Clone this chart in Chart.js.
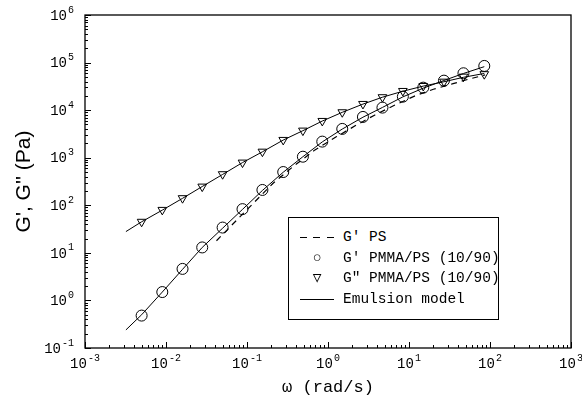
<!DOCTYPE html>
<html>
<head>
<meta charset="utf-8">
<script src="https://cdn.jsdelivr.net/npm/chart.js@4.4.1/dist/chart.umd.min.js"></script>
<style>
  body { margin: 0; background: #fff; }
  #wrap { position: relative; width: 582px; height: 407px; }
  #legend {
    position: absolute; left: 288px; top: 217px; width: 211px; height: 103px;
    border: 1px solid #000; box-sizing: border-box; background: #fff;
    font-family: 'Liberation Mono', monospace; font-size: 14.5px; color: #000;
    padding-top: 9px;
  }
  .row { height: 20.5px; line-height: 20.5px; white-space: nowrap; position: relative; }
  .sym { position: absolute; left: 9px; width: 38px; text-align: center; }
  .txt { position: absolute; left: 54px; }
  .dash { position: absolute; left: 11px; top: 10px; width: 34px; height: 1.3px;
          background: repeating-linear-gradient(90deg, #000 0 7px, transparent 7px 13.5px); }
  .solid { position: absolute; left: 11px; top: 10px; width: 34px; border-top: 1px solid #000; }
</style>
</head>
<body>
<div id="wrap">
  <canvas id="c" width="582" height="407"></canvas>
  <div id="legend">
    <div class="row"><span class="dash"></span><span class="txt">G' PS</span></div>
    <div class="row"><span class="sym">○</span><span class="txt">G' PMMA/PS (10/90)</span></div>
    <div class="row"><span class="sym">▽</span><span class="txt">G" PMMA/PS (10/90)</span></div>
    <div class="row"><span class="solid"></span><span class="txt">Emulsion model</span></div>
  </div>
</div>
<script>
// frequencies (rad/s) of the blend measurements
const omega = [0.005, 0.009, 0.016, 0.028, 0.05, 0.088, 0.155, 0.28, 0.49, 0.85, 1.5, 2.7, 4.7, 8.4, 15, 27, 47, 85];
// G' PMMA/PS (10/90)
const gPrimeBlend = [0.48, 1.5, 4.6, 13, 34, 83, 210, 500, 1050, 2180, 4030, 7200, 11300, 19200, 29700, 41700, 59600, 85000];
// G'' PMMA/PS (10/90)
const gDoubleBlend = [45, 80, 141, 247, 450, 790, 1340, 2365, 3715, 5930, 9030, 13500, 18700, 25300, 32200, 39700, 50600, 57000];

// G' of pure PS (dashed)
const omegaPS = [0.042, 0.12, 0.21, 0.37, 0.69, 1.28, 2.26, 3.8, 6.7, 11.9, 20, 35, 55, 87];
const gPrimePS = [18, 111, 291, 650, 1460, 2780, 4890, 7940, 12800, 20000, 27500, 36000, 45000, 55000];

// emulsion model curves
const omegaModel = [0.0032, 0.005, 0.009, 0.016, 0.028, 0.05, 0.088, 0.155, 0.28, 0.49, 0.85, 1.5, 2.7, 4.7, 8.4, 15, 27, 47, 85];
const gPrimeModel = [0.24, 0.5, 1.5, 4.5, 13, 33, 82, 205, 495, 1050, 2150, 4000, 7100, 11400, 19000, 29000, 42000, 59000, 82000];
const gDoubleModel = [28, 45, 79, 140, 248, 445, 790, 1330, 2350, 3700, 5900, 9000, 13400, 18700, 25000, 32000, 39500, 49000, 59000];

// tick labels are 10^n for these exponents
const xDecades = [-3, -2, -1, 0, 1, 2, 3];
const yDecades = [-1, 0, 1, 2, 3, 4, 5, 6];

const pts = (xs, ys) => xs.map((x, i) => ({ x: x, y: ys[i] }));
const monoFont = "'Liberation Mono', 'Courier New', monospace";

// draws "10" with a raised exponent, anchored at (x, y)
function drawPow(ctx, exp, x, y, align) {
  const base = '10';
  const e = String(exp);
  ctx.font = '14px ' + monoFont;
  const wb = ctx.measureText(base).width;
  ctx.font = '10px ' + monoFont;
  const we = ctx.measureText(e).width;
  const total = wb + 1 + we;
  const left = align === 'center' ? x - total / 2 : x - total;
  ctx.textAlign = 'left';
  ctx.textBaseline = 'middle';
  ctx.font = '14px ' + monoFont;
  ctx.fillText(base, left, y);
  ctx.font = '10px ' + monoFont;
  ctx.fillText(e, left + wb + 1, y - 6);
}

const frameTicks = {
  id: 'frameTicks',
  afterDraw(chart) {
    const { ctx, chartArea: a, scales: { x, y } } = chart;
    ctx.save();
    ctx.strokeStyle = '#000';
    ctx.fillStyle = '#000';
    ctx.lineWidth = 1.3;
    ctx.strokeRect(a.left, a.top, a.right - a.left, a.bottom - a.top);
    ctx.lineWidth = 1;
    ctx.beginPath();
    xDecades.forEach(e => {
      for (let m = 1; m < 10; m++) {
        if (e === 3 && m > 1) break;
        const px = Math.round(x.getPixelForValue(m * Math.pow(10, e))) + 0.5;
        const len = m === 1 ? 6 : 3;
        ctx.moveTo(px, a.bottom);
        ctx.lineTo(px, a.bottom - len);
      }
    });
    yDecades.forEach(e => {
      for (let m = 1; m < 10; m++) {
        if (e === 6 && m > 1) break;
        const py = Math.round(y.getPixelForValue(m * Math.pow(10, e))) + 0.5;
        const len = m === 1 ? 6 : 3;
        ctx.moveTo(a.left, py);
        ctx.lineTo(a.left + len, py);
      }
    });
    ctx.stroke();

    x.ticks.forEach(t => drawPow(ctx, Math.round(Math.log10(t.value)), x.getPixelForValue(t.value), a.bottom + 16, 'center'));
    y.ticks.forEach(t => drawPow(ctx, Math.round(Math.log10(t.value)), a.left - 11, y.getPixelForValue(t.value) + 1, 'right'));
    ctx.restore();
  }
};

new Chart(document.getElementById('c'), {
  type: 'line',
  data: {
    datasets: [
      {
        label: "G' PS",
        data: pts(omegaPS, gPrimePS),
        borderColor: '#000', borderWidth: 1.2, borderDash: [6, 5],
        pointRadius: 0, fill: false
      },
      {
        label: 'Emulsion model',
        data: pts(omegaModel, gPrimeModel),
        borderColor: '#000', borderWidth: 1, pointRadius: 0, fill: false
      },
      {
        label: 'Emulsion model',
        data: pts(omegaModel, gDoubleModel),
        borderColor: '#000', borderWidth: 1, pointRadius: 0, fill: false
      },
      {
        label: "G' PMMA/PS (10/90)",
        data: pts(omega, gPrimeBlend),
        showLine: false, pointStyle: 'circle', pointRadius: 5.5,
        pointBorderColor: '#000', pointBackgroundColor: 'rgba(0,0,0,0)', pointBorderWidth: 1
      },
      {
        label: 'G" PMMA/PS (10/90)',
        data: pts(omega, gDoubleBlend),
        showLine: false, pointStyle: 'triangle', pointRotation: 180, pointRadius: 5,
        pointBorderColor: '#000', pointBackgroundColor: 'rgba(0,0,0,0)', pointBorderWidth: 1
      }
    ]
  },
  options: {
    responsive: false,
    animation: false,
    devicePixelRatio: 1,
    layout: { padding: { top: 15, right: 11, left: 0, bottom: 0 } },
    plugins: { legend: { display: false }, tooltip: { enabled: false } },
    scales: {
      x: {
        type: 'logarithmic', min: 1e-3, max: 1e3,
        grid: { display: false },
        border: { display: false },
        afterBuildTicks: (s) => { s.ticks = xDecades.map(e => ({ value: Math.pow(10, e) })); },
        afterFit: (s) => { s.height = 59; s.paddingLeft = 0; s.paddingRight = 0; },
        ticks: { display: false },
        title: { display: true, text: 'ω (rad/s)', color: '#000', font: { family: monoFont, size: 17 }, padding: { top: 0, bottom: 9 } }
      },
      y: {
        type: 'logarithmic', min: 1e-1, max: 1e6,
        grid: { display: false },
        border: { display: false },
        afterBuildTicks: (s) => { s.ticks = yDecades.map(e => ({ value: Math.pow(10, e) })); },
        afterFit: (s) => { s.width = 85; s.paddingTop = 0; s.paddingBottom = 0; },
        ticks: { display: false },
        title: { display: true, text: "G', G'' (Pa)", color: '#000', font: { family: "'Liberation Sans', Arial, sans-serif", size: 21 }, padding: { top: 12, bottom: 0 } }
      }
    }
  },
  plugins: [frameTicks]
});
</script>
</body>
</html>
